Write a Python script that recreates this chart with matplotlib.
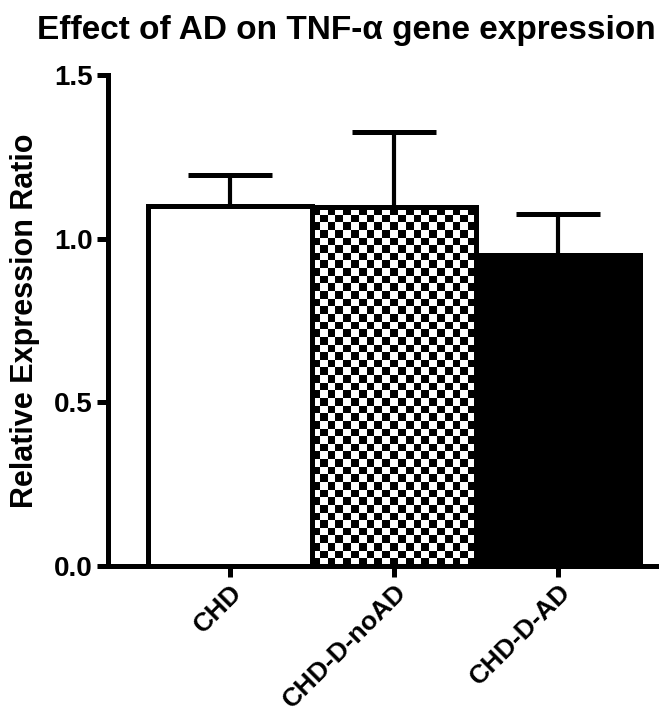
import matplotlib
matplotlib.use('Agg')
import matplotlib.pyplot as plt
import numpy as np

# values
groups = ['CHD', 'CHD-D-noAD', 'CHD-D-AD']
means = [1.10, 1.095, 0.951]
upper_err = [0.093, 0.229, 0.125]

plt.rcParams['font.family'] = ['Liberation Sans', 'DejaVu Sans']
plt.rcParams['font.weight'] = 'bold'

fig = plt.figure(figsize=(6.59, 7.2), dpi=100)
ax = fig.add_axes([0.164, 0.214, 0.836, 0.682])

x = np.arange(len(groups))
ax.set_xlim(-0.744, 2.616)
ax.set_ylim(0, 1.5)

bars = ax.bar(x, means, width=1.0, color=['white', 'white', 'black'],
              edgecolor='black', linewidth=3.6, zorder=3)

ax.errorbar(x, means, yerr=[np.zeros(len(means)), upper_err], fmt='none',
            ecolor='black', elinewidth=3.0, capsize=30, capthick=3.6, zorder=2)

# checkerboard fill for the middle bar, squares of about 7.7 px
b = bars[1]
x0, y0 = b.get_x(), b.get_y()
w, h = b.get_width(), b.get_height()
px0 = ax.transData.transform((x0, y0))
px1 = ax.transData.transform((x0 + w, y0 + h))
nx = int(round(abs(px1[0] - px0[0]) / 7.7))
ny = int(round(abs(px1[1] - px0[1]) / 7.7))
checker = (np.indices((ny, nx)).sum(axis=0) % 2).astype(float)
im = ax.imshow(checker, cmap='gray', extent=(x0, x0 + w, y0, y0 + h),
               aspect='auto', interpolation='nearest', zorder=3, origin='lower')
im.set_clip_path(b)
b.set_zorder(4)
b.set_facecolor('none')
ax.set_xlim(-0.744, 2.616)
ax.set_ylim(0, 1.5)

ax.set_yticks([0.0, 0.5, 1.0, 1.5])
ax.set_yticklabels(['0.0', '0.5', '1.0', '1.5'], fontsize=20, fontweight='bold')
ax.set_xticks(x)
ax.set_xticklabels(groups, rotation=45, ha='right', rotation_mode='anchor',
                   fontsize=19, fontweight='bold')

for side in ['top', 'right']:
    ax.spines[side].set_visible(False)
for side in ['left', 'bottom']:
    ax.spines[side].set_linewidth(3.6)
    ax.spines[side].set_capstyle('projecting')
ax.tick_params(axis='y', length=8, width=3.6, pad=3)
ax.tick_params(axis='x', length=8, width=3.6, pad=2)

ax.set_ylabel('Relative Expression Ratio', fontsize=22, fontweight='bold', labelpad=10)
fig.text(0.525, 0.958, 'Effect of AD on TNF-α gene expression', ha='center',
         va='center', fontsize=24, fontweight='bold')

fig.savefig('out.png', dpi=100)
